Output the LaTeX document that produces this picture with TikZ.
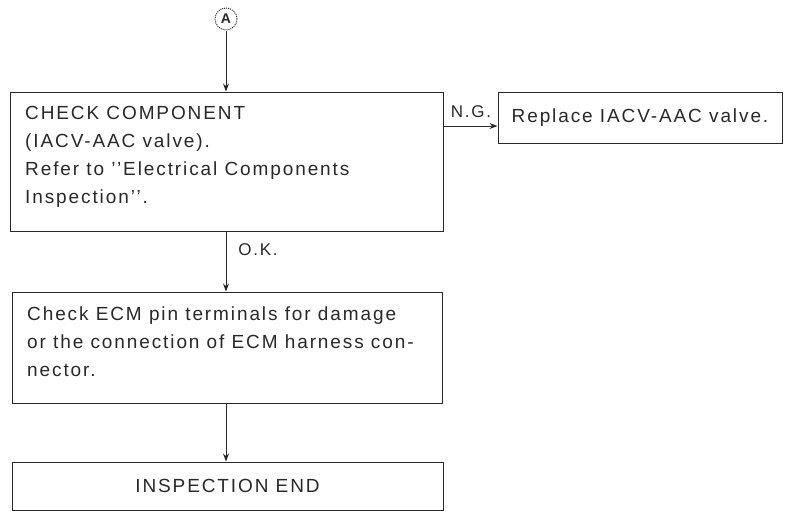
\documentclass[tikz,border=0pt]{standalone}
\usepackage{fontspec}
\setmainfont{Liberation Sans}[LetterSpace=10]
\usetikzlibrary{arrows.meta,calc}
\definecolor{ink}{RGB}{40,40,40}
\tikzset{
  box/.style={draw=ink, line width=1pt, rectangle, inner sep=0pt, text=ink,
    font=\fontsize{19}{28}\selectfont},
  txt/.style={inner sep=0pt, text=ink, align=left, font=\fontsize{19}{28}\selectfont},
  lbl/.style={inner sep=0pt, text=ink, font=\fontsize{17}{18}\selectfont},
  flow/.style={draw=ink, line width=1pt, -{Stealth[length=8pt,width=6pt]}},
  conn/.style={draw=ink, line width=1pt}
}
\begin{document}
\begin{tikzpicture}[x=1pt,y=-1pt]
\useasboundingbox (0,0) rectangle (788,512);
% start connector
\node (A) [draw=ink, densely dotted, line width=1pt, circle, minimum size=22pt, inner sep=0pt, text=ink,
  font=\fontsize{14}{14}\selectfont\bfseries] at (226,19) {A};
% boxes
\node (b1) [box, minimum width=433pt, minimum height=139pt] at (226.5,161.5) {};
\node (t1) [txt, anchor=north west] at (25,106.5) {CHECK COMPONENT\\(IACV-AAC valve).\\Refer to {'}{'}Electrical Components\\Inspection{'}{'}.};
\node (b2) [box, minimum width=284pt, minimum height=51pt] at (640,117.5) {Replace IACV-AAC valve.};
\node (b3) [box, minimum width=430pt, minimum height=111pt] at (227,347.5) {};
\node (t3) [txt, anchor=north west] at (27,306.5) {Check ECM pin terminals for damage\\or the connection of ECM harness con-\\nector.};
\node (b4) [box, minimum width=431pt, minimum height=48pt] at (227.5,486) {INSPECTION END};
% connectors
\draw[flow] (A.south) -- (A.south |- b1.north);
\coordinate (ngs) at (b1.east |- 0,126);
\draw[flow] (ngs) -- (ngs -| b2.west);
\node (ng) [lbl] at (471,112) {N.G.};
\draw[flow] (226,0 |- b1.south) -- (226,0 |- b3.north);
\node (ok) [lbl] at (258,250) {O.K.};
\draw[flow] (226,0 |- b3.south) -- (226,0 |- b4.north);
\end{tikzpicture}
\end{document}
